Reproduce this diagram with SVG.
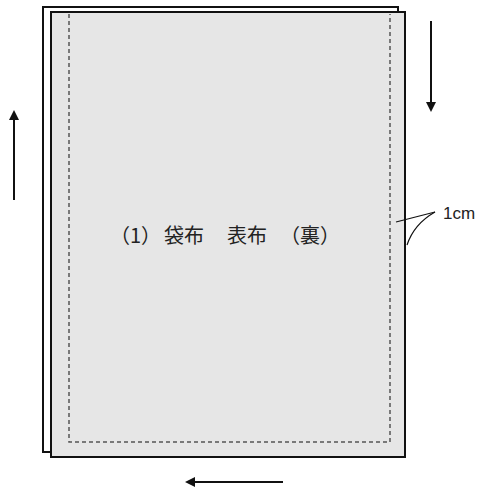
<svg xmlns="http://www.w3.org/2000/svg" width="478" height="487" viewBox="0 0 478 487">
<style>
.sheet{stroke:#111;stroke-width:2}
.seam{fill:none;stroke:#555;stroke-width:1.5;stroke-dasharray:4 3}
.arr{stroke:#111;stroke-width:2;fill:none}
.lbl{font-family:"Noto Sans CJK JP","Noto Sans",sans-serif;font-size:20px;fill:#222}
.lead{fill:none;stroke:#111;stroke-width:1.2}
</style>
<defs>
<marker id="ah" markerWidth="10" markerHeight="10" refX="8" refY="5" orient="auto" markerUnits="userSpaceOnUse">
<path d="M0,0 L10,5 L0,10 Z" fill="#111"/>
</marker>
</defs>
<g id="back-sheet"><rect class="sheet" x="43" y="7" width="355" height="445" fill="#fff"/></g>
<g id="front-sheet">
<rect class="sheet" x="51" y="12" width="354" height="445" fill="#e6e6e6"/>
<path class="seam" d="M69,14 V442 H390 V14"/>
<text class="lbl" x="110" y="243">（1）</text>
<text class="lbl" x="164" y="243">袋布</text>
<text class="lbl" x="227" y="243">表布</text>
<text class="lbl" x="280" y="243">（裏）</text>
</g>
<g id="callout">
<text x="443" y="219" font-family="Liberation Sans, Arial, sans-serif" font-size="17" fill="#222">1cm</text>
</g>
<g id="connectors">
<line class="arr" x1="431" y1="21" x2="431" y2="110" marker-end="url(#ah)"/>
<line class="arr" x1="14" y1="200" x2="14" y2="112" marker-end="url(#ah)"/>
<line class="arr" x1="283" y1="482" x2="187" y2="482" marker-end="url(#ah)"/>
<path class="lead" d="M396,222 L435,212"/>
<path class="lead" d="M435,212 Q414,224 407,245"/>
</g>
</svg>
